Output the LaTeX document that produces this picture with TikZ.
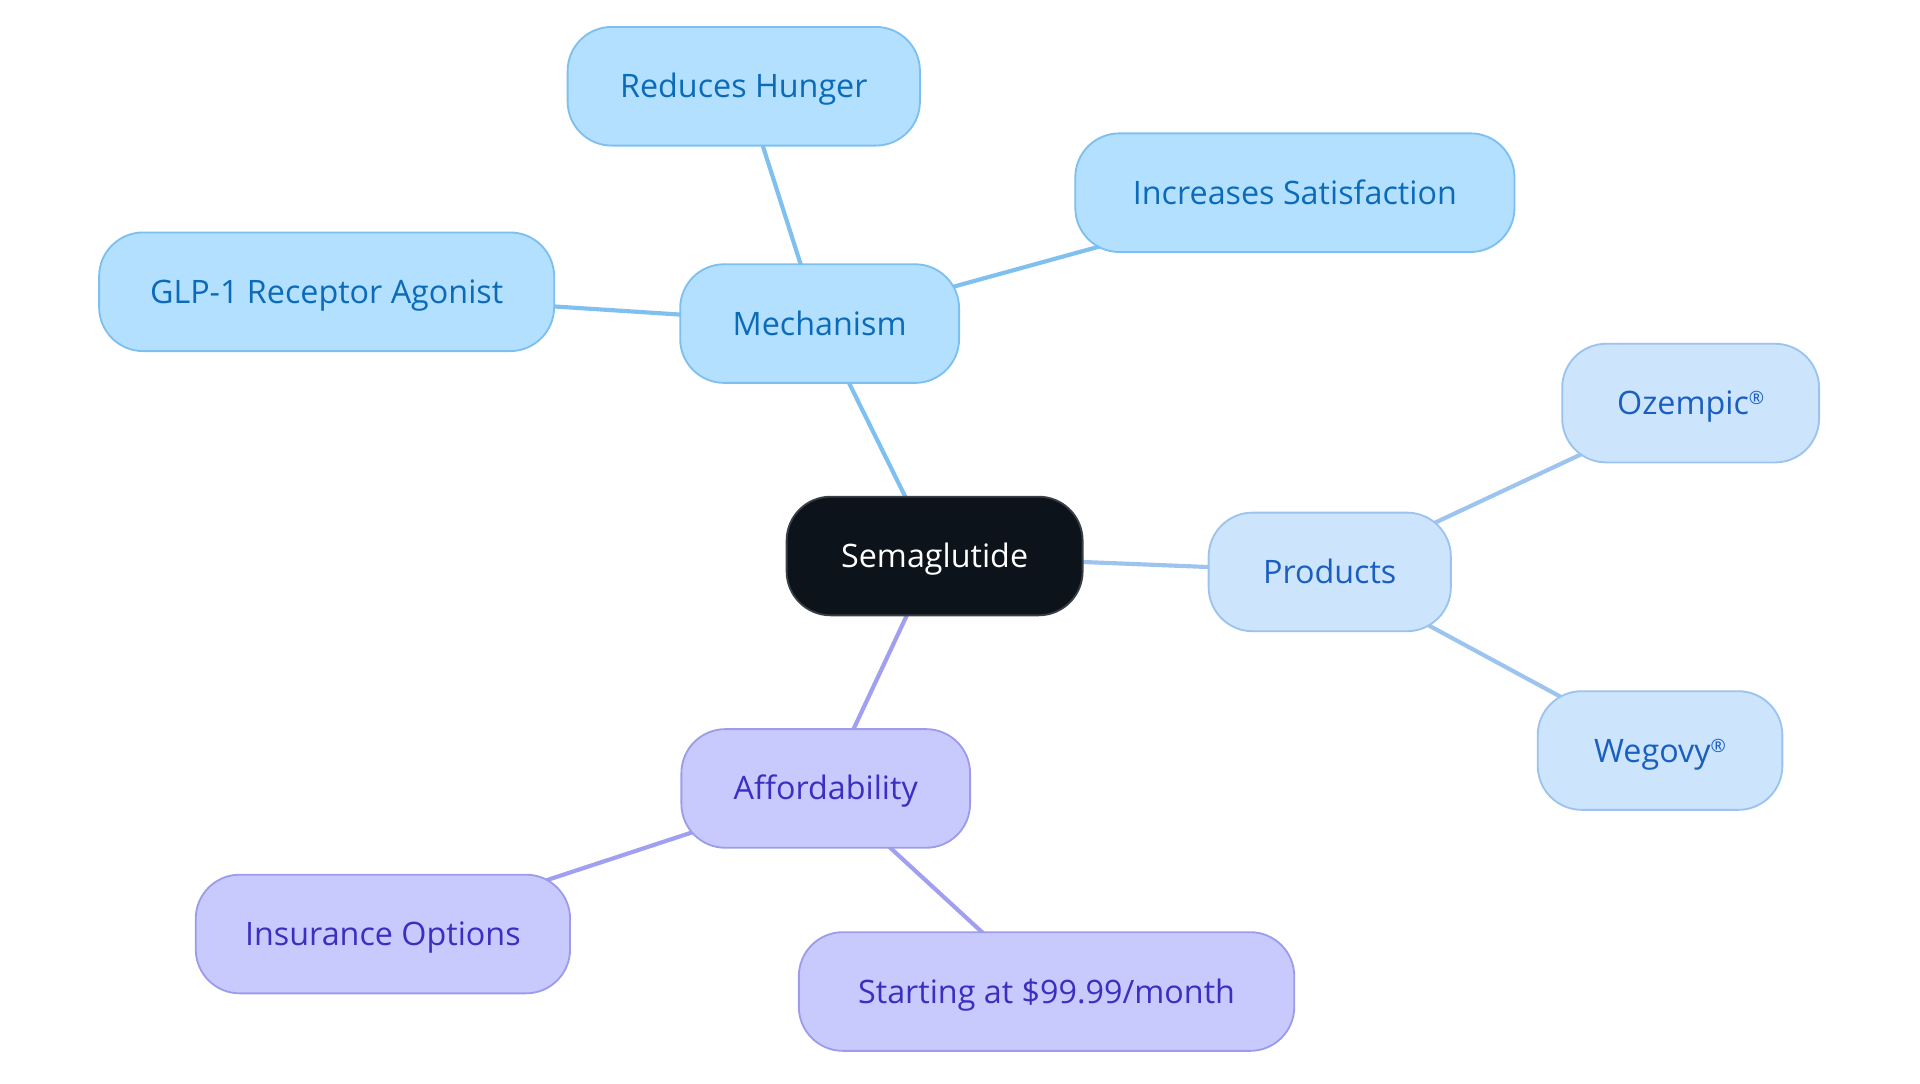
\documentclass[tikz,border=0pt]{standalone}
\usepackage{fontspec}
\setmainfont{Open Sans}
\usetikzlibrary{backgrounds}
\definecolor{mfill}{HTML}{B3E0FF}
\definecolor{mdraw}{HTML}{7DBFEF}
\definecolor{mtext}{HTML}{0B6BB8}
\definecolor{medge}{HTML}{7FC0EE}
\definecolor{pfill}{HTML}{CCE4FC}
\definecolor{pdraw}{HTML}{9BC3EE}
\definecolor{ptext}{HTML}{1A5FBF}
\definecolor{pedge}{HTML}{9DC4EF}
\definecolor{afill}{HTML}{C8CAFD}
\definecolor{adraw}{HTML}{9C9CEB}
\definecolor{atext}{HTML}{3B2FC0}
\definecolor{aedge}{HTML}{A09FF0}
\definecolor{rootfill}{HTML}{0D131A}
\definecolor{rootdraw}{HTML}{3A3F45}
\newcommand{\regmark}{\raisebox{4pt}{\fontsize{7.5pt}{8pt}\selectfont ®}}
\tikzset{
  x=0.5pt, y=-0.5pt,
  box/.style={rounded corners=18pt, minimum height=48.5pt, inner sep=0pt, text height=9.4pt, text depth=0pt, line width=0.75pt, font=\fontsize{13.2pt}{15.5pt}\selectfont},
  mbox/.style={box, fill=mfill, draw=mdraw, text=mtext},
  pbox/.style={box, fill=pfill, draw=pdraw, text=ptext},
  abox/.style={box, fill=afill, draw=adraw, text=atext},
  rootbox/.style={box, fill=rootfill, draw=rootdraw, text=white},
  edge/.style={line width=1.7pt},
}
\begin{document}
\begin{tikzpicture}
\useasboundingbox (0,0) rectangle (1569.5,885.3);
\node[rootbox, minimum width=121pt] (root) at (764,454.5) {Semaglutide};
\node[mbox, minimum width=114pt] (mech) at (670,264.5) {Mechanism};
\node[mbox, minimum width=144pt] (hunger) at (608,70.5) {Reduces Hunger};
\node[mbox, minimum width=179.5pt] (satis) at (1058.5,157.5) {Increases Satisfaction};
\node[mbox, minimum width=186pt] (glp) at (267,238.5) {GLP-1 Receptor Agonist};
\node[pbox, minimum width=99pt] (prod) at (1087,467.5) {Products};
\node[pbox, minimum width=105pt] (oz) at (1382,329.5) {Ozempic\regmark};
\node[pbox, minimum width=100pt] (weg) at (1357,613.5) {Wegovy\regmark};
\node[abox, minimum width=118pt] (aff) at (675,644.5) {Affordability};
\node[abox, minimum width=153pt] (ins) at (313,763.5) {Insurance Options};
\node[abox, minimum width=202.5pt] (price) at (855.5,810.5) {Starting at \$99.99/month};
\begin{scope}[on background layer]
\draw[edge, medge] (root.center) -- (mech.center);
\draw[edge, medge] (mech.center) -- (hunger.center);
\draw[edge, medge] (mech.center) -- (satis.center);
\draw[edge, medge] (mech.center) -- (glp.center);
\draw[edge, pedge] (root.center) -- (prod.center);
\draw[edge, pedge] (prod.center) -- (oz.center);
\draw[edge, pedge] (prod.center) -- (weg.center);
\draw[edge, aedge] (root.center) -- (aff.center);
\draw[edge, aedge] (aff.center) -- (ins.center);
\draw[edge, aedge] (aff.center) -- (price.center);
\end{scope}
\end{tikzpicture}
\end{document}
